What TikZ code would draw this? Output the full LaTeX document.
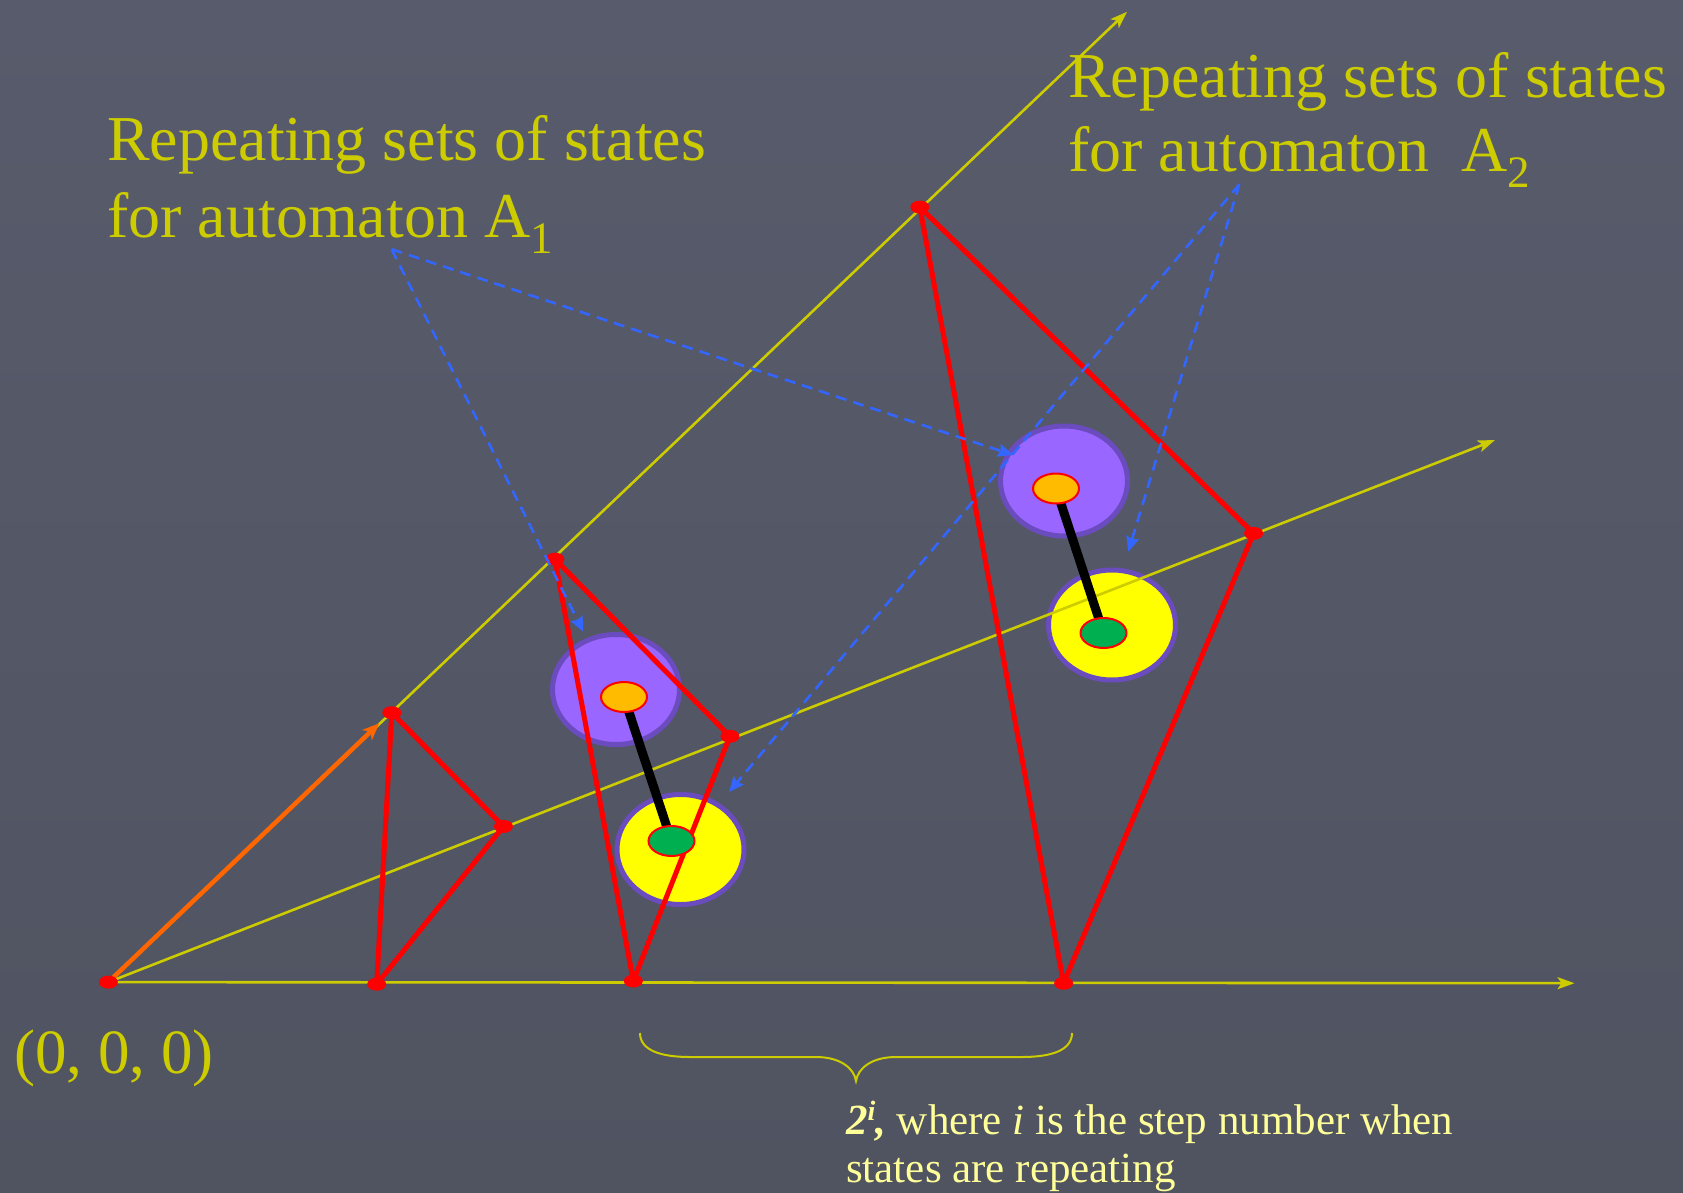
\documentclass[tikz,border=0pt]{standalone}
\usepackage{fontspec}
\setmainfont{Liberation Serif}
\usetikzlibrary{arrows.meta,shapes.geometric}
\definecolor{bgtop}{RGB}{88,91,107}
\definecolor{bgbot}{RGB}{80,83,96}
\definecolor{lblyel}{RGB}{204,204,0}
\definecolor{axyel}{RGB}{204,204,0}
\definecolor{paleyel}{RGB}{255,255,153}
\definecolor{redc}{RGB}{255,0,0}
\definecolor{orarrow}{RGB}{255,102,0}
\definecolor{purfill}{RGB}{153,102,255}
\definecolor{purline}{RGB}{107,76,190}
\definecolor{orfill}{RGB}{255,187,0}
\definecolor{grfill}{RGB}{0,176,80}
\definecolor{yelfill}{RGB}{255,255,0}
\definecolor{bluec}{RGB}{51,102,255}
\newcommand\bigfs{\fontsize{64}{72}\selectfont}
\newcommand\mysubs[1]{\raisebox{-16pt}{\fontsize{45}{45}\selectfont #1}}
\begin{document}
\begin{tikzpicture}[x=1pt,y=-1pt,
  lbl/.style={text=lblyel,inner sep=0pt,anchor=base west,font=\bigfs},
  btxt/.style={text=paleyel,inner sep=0pt,anchor=base west,font=\fontsize{43}{49}\selectfont},
  axis/.style={draw=axyel,line width=2.6pt,-{Stealth[length=17pt,width=12pt,inset=4pt]}},
  redl/.style={draw=redc,line width=5pt,line join=round},
  reddot/.style={ellipse,fill=redc,draw=none,minimum width=19pt,minimum height=13pt,inner sep=0pt},
  bigcirc/.style={ellipse,draw=purline,line width=5pt,minimum width=127pt,minimum height=110pt,inner sep=0pt},
  smallell/.style={ellipse,draw=redc,line width=2pt,minimum width=46pt,minimum height=30pt,inner sep=0pt},
  blink/.style={draw=black,line width=9pt},
  bdash/.style={draw=bluec,line width=2.6pt,dash pattern=on 11pt off 7pt,-{Stealth[length=15pt,width=13pt,inset=2pt]}},
  brace/.style={draw=axyel,line width=2pt}
]
\useasboundingbox (0,0) rectangle (1683,1193);
\shade[top color=bgtop,bottom color=bgbot] (0,0) rectangle (1683,1193);

% big circles
\node[bigcirc,fill=purfill] (pu1) at (616,689.5) {};
\node[bigcirc,fill=yelfill] (ye1) at (680.5,849.5) {};
\node[bigcirc,fill=purfill] (pu2) at (1064,481) {};
\node[bigcirc,fill=yelfill] (ye2) at (1112,625) {};

% points
\coordinate (O) at (108.4,982.1);
\coordinate (Htip) at (1574.5,983.2);
\coordinate (Stip) at (1127,11.8);
\coordinate (Ltip) at (1495,440);
\coordinate (P1) at (391.8,712.7);
\coordinate (P2) at (503.4,826.4);
\coordinate (P3) at (376.7,984.2);
\coordinate (P4) at (554.9,559.2);
\coordinate (P5) at (729.9,736.3);
\coordinate (P6) at (633.3,981.0);
\coordinate (P7) at (919.8,207.1);
\coordinate (P8) at (1253.6,533.4);
\coordinate (P9) at (1063.6,983.2);
\coordinate (Otip) at (379.3,723.3);

% axes
\draw[axis] (O) -- (Htip);
\draw[axis] (O) -- (Stip);
\draw[axis] (O) -- (Ltip);

% orange arrow
\draw[draw=orarrow,line width=4.5pt,-{Stealth[length=17pt,width=14pt,inset=5pt]}] (O) -- (Otip);

% red triangles
\draw[redl] (P1) -- (P2) -- (P3) -- cycle;
\draw[redl] (P4) -- (P5) -- (P6) -- cycle;
\draw[redl] (P7) -- (P8) -- (P9) -- cycle;

% red dots
\foreach \p in {O,P1,P2,P3,P4,P5,P6,P7,P8,P9} \node[reddot] (d\p) at (\p) {};

% links and small ellipses
\coordinate (or1c) at (624,697);
\coordinate (gr1c) at (671.5,841);
\coordinate (or2c) at (1056,488.5);
\coordinate (gr2c) at (1103.5,633);
\draw[blink] (or1c) -- (gr1c);
\draw[blink] (or2c) -- (gr2c);
\node[smallell,fill=orfill] (or1) at (or1c) {};
\node[smallell,fill=grfill] (gr1) at (gr1c) {};
\node[smallell,fill=orfill] (or2) at (or2c) {};
\node[smallell,fill=grfill] (gr2) at (gr2c) {};

% blue dashed arrows
\coordinate (a1src) at (391.7,249.3);
\coordinate (a2src) at (1239.3,184.3);
\coordinate (t11) at (583.3,631.7);
\coordinate (t12) at (1013,455);
\coordinate (t21) at (1128.3,551.7);
\coordinate (t22) at (729,792);
\draw[bdash] (a1src) -- (t11);
\draw[bdash] (a1src) -- (t12);
\draw[bdash] (a2src) -- (t21);
\draw[bdash] (a2src) -- (t22);

% labels
\node[lbl] (a1a) at (107,161) {Repeating sets of states};
\node[lbl] (a1b) at (107,237) {for automaton A\mysubs{1}};
\node[lbl] (a2a) at (1068,98) {Repeating sets of states};
\node[lbl] (a2b) at (1068,172) {for automaton\ \ A\mysubs{2}};
\node[lbl,font=\fontsize{63}{70}\selectfont] (orig) at (14,1073) {(0, 0, 0)};

% brace
\draw[brace] (640,1033) .. controls (640,1050) and (660,1057) .. (690,1057)
  -- (816,1057) .. controls (840,1057) and (854,1068) .. (856,1081)
  .. controls (858,1068) and (872,1057) .. (896,1057)
  -- (1022,1057) .. controls (1052,1057) and (1072,1050) .. (1072,1033);

% bottom text
\node[btxt] (b1) at (846,1134) {\textbf{\textit{2}}\raisebox{14pt}{\fontsize{28}{28}\selectfont\bfseries\itshape i}\textbf{\textit{,}} where \textit{i} is the step number when};
\node[btxt] (b2) at (846,1182) {states are repeating};
\end{tikzpicture}
\end{document}
